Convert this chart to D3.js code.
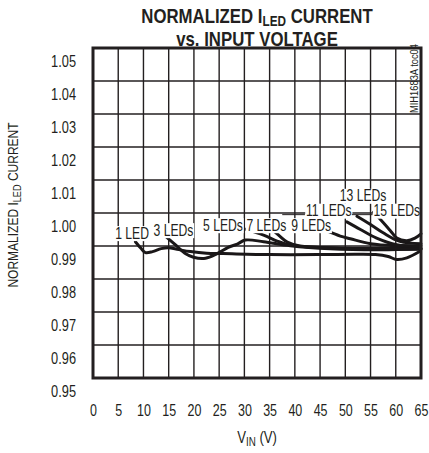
<!DOCTYPE html>
<html>
<head>
<meta charset="utf-8">
<script src="https://cdn.jsdelivr.net/npm/d3@7"></script>
<style>
  body { margin: 0; background: #fff; }
  svg text { font-family: "Liberation Sans", Arial, sans-serif; fill: #231f20; }
</style>
</head>
<body>
<div id="chart"></div>
<script>
const svgWidth = 429;
const svgHeight = 453;

const margin = { top: 48, right: 8, bottom: 75, left: 93 };
const width = svgWidth - margin.left - margin.right;
const height = svgHeight - margin.top - margin.bottom;

// tick values
const xTicks = [0, 5, 10, 15, 20, 25, 30, 35, 40, 45, 50, 55, 60, 65];
const yTicks = [0.95, 0.96, 0.97, 0.98, 0.99, 1.00, 1.01, 1.02, 1.03, 1.04, 1.05];

// curves: [input voltage, normalized current]
const led1 = [[8.4, 0.9913], [9.5, 0.9893], [10.4, 0.9880], [11.8, 0.9883], [13.5, 0.9892], [14.9, 0.9895],
  [17, 0.9889], [19.3, 0.9883], [22.5, 0.9878], [25.8, 0.9877], [35, 0.9874], [45, 0.9874],
  [52, 0.9875], [56, 0.9874], [58.5, 0.9868], [60.2, 0.9859], [62.2, 0.9864], [64.8, 0.9884]];
const led3 = [[14.3, 0.9931], [16.3, 0.9904], [18.2, 0.9878], [19.9, 0.9866], [22.3, 0.9863], [24.6, 0.9877],
  [26.8, 0.9896], [28.6, 0.9906], [30.2, 0.9918], [33.8, 0.9913], [39.1, 0.9901], [47, 0.9892],
  [56.9, 0.9889], [65, 0.9892]];
const led5 = [[30.2, 0.9951], [33.8, 0.9933], [36.5, 0.9915], [38.5, 0.9905], [42.5, 0.9897], [50, 0.9893],
  [57, 0.9891], [65, 0.9890]];
const led7 = [[35.2, 0.9955], [37, 0.9930], [38.5, 0.9912], [41, 0.9900], [48, 0.9894], [56, 0.9893], [65, 0.9893]];
const led9 = [[46.6, 0.9944], [49, 0.9930], [51, 0.9922], [55, 0.9907], [59.9, 0.9901], [65, 0.9901]];
const led11 = [[50.3, 0.9973], [53, 0.9950], [56.2, 0.9924], [60.2, 0.9904], [64.8, 0.9899]];
const led13 = [[52.3, 0.9990], [55, 0.9965], [57.5, 0.9940], [60.8, 0.9914], [65, 0.9907]];
const led15 = [[55.6, 1.0003], [57.5, 0.9971], [59, 0.9945], [60.2, 0.9924], [62.2, 0.9916], [63.8, 0.9924], [65, 0.9937]];

const seriesNames = ["1 LED", "3 LEDs", "5 LEDs", "7 LEDs", "9 LEDs", "11 LEDs", "13 LEDs", "15 LEDs"];
// where each curve name sits: [voltage at left edge of text, value at baseline]
const labelAt = [[4.4, 0.9922], [12.0, 0.9931], [21.8, 0.9946], [30.4, 0.9946], [39.3, 0.9946], [42.2, 0.9990], [48.9, 1.0035], [55.6, 0.9990]];

const svg = d3.select("#chart")
  .append("svg")
  .attr("width", svgWidth)
  .attr("height", svgHeight);

const chartGroup = svg.append("g")
  .attr("transform", `translate(${margin.left}, ${margin.top})`);

const xLinearScale = d3.scaleLinear().domain([0, 65]).range([0, width]);
const yLinearScale = d3.scaleLinear().domain([0.95, 1.05]).range([height, 0]);

// the original uses a narrow face; squeeze the texts sideways
function squeeze(sel, k) {
  sel.each(function() {
    const t = d3.select(this);
    const x = +t.attr("x") || 0;
    const y = +t.attr("y") || 0;
    t.attr("x", 0).attr("y", 0)
      .attr("transform", `translate(${x},${y}) scale(${k},1)`);
  });
}

// grid
chartGroup.append("g")
  .selectAll("line")
  .data(xTicks.slice(1, -1))
  .join("line")
  .attr("x1", d => xLinearScale(d)).attr("x2", d => xLinearScale(d))
  .attr("y1", 0).attr("y2", height)
  .attr("stroke", "#231f20").attr("stroke-width", 1.4);

chartGroup.append("g")
  .selectAll("line")
  .data(yTicks.slice(1, -1))
  .join("line")
  .attr("x1", 0).attr("x2", width)
  .attr("y1", d => yLinearScale(d)).attr("y2", d => yLinearScale(d))
  .attr("stroke", "#231f20").attr("stroke-width", 1.4);

// axes, labels only (they sit a bit below their grid lines in the original)
const leftAxis = d3.axisLeft(yLinearScale).tickValues(yTicks).tickFormat(d3.format(".2f")).tickSize(0).tickPadding(17);
const yAxis = chartGroup.append("g").call(leftAxis);
yAxis.select(".domain").remove();
yAxis.selectAll("text")
  .attr("dy", "1.15em")
  .style("font-size", "16px")
  .style("font-family", null)
  .attr("fill", "#231f20")
  .call(squeeze, 0.8);

const bottomAxis = d3.axisBottom(xLinearScale).tickValues(xTicks).tickSize(0).tickPadding(27);
const xAxis = chartGroup.append("g")
  .attr("transform", `translate(0, ${height})`)
  .call(bottomAxis);
xAxis.select(".domain").remove();
xAxis.selectAll("text")
  .style("font-size", "16px")
  .attr("fill", "#231f20")
  .call(squeeze, 0.78);
xAxis.attr("font-family", null);
yAxis.attr("font-family", null);

// curves
const line = d3.line()
  .x(d => xLinearScale(d[0]))
  .y(d => yLinearScale(d[1]))
  .curve(d3.curveCatmullRom);

const allSeries = [led1, led3, led5, led7, led9, led11, led13, led15];

chartGroup.append("g")
  .selectAll("path")
  .data(allSeries)
  .join("path")
  .attr("d", line)
  .attr("fill", "none")
  .attr("stroke", "#1a1718")
  .attr("stroke-width", 3)
  .attr("stroke-linejoin", "round")
  .attr("stroke-linecap", "round");

// curve names with white boxes
const labelGroup = chartGroup.append("g");
seriesNames.forEach(function(name, i) {
  const g = labelGroup.append("g")
    .attr("transform", `translate(${xLinearScale(labelAt[i][0])},${yLinearScale(labelAt[i][1])}) scale(0.76,1)`);
  const t = g.append("text")
    .style("font-size", "16px")
    .text(name);
  const b = t.node().getBBox();
  g.insert("rect", "text")
    .attr("x", b.x - 1).attr("y", b.y + 2)
    .attr("width", b.width + 2).attr("height", b.height - 3)
    .attr("fill", "#fff");
});

// leader strokes around "11 LEDs"
labelGroup.append("line")
  .attr("x1", xLinearScale(37.5)).attr("x2", xLinearScale(42))
  .attr("y1", yLinearScale(0.9995)).attr("y2", yLinearScale(0.9995))
  .attr("stroke", "#231f20").attr("stroke-width", 1);
labelGroup.append("line")
  .attr("x1", xLinearScale(51.3)).attr("x2", xLinearScale(55.4))
  .attr("y1", yLinearScale(0.9995)).attr("y2", yLinearScale(0.9995))
  .attr("stroke", "#231f20").attr("stroke-width", 1);

// frame
chartGroup.append("rect")
  .attr("x", 0).attr("y", 0)
  .attr("width", width).attr("height", height)
  .attr("fill", "none")
  .attr("stroke", "#231f20")
  .attr("stroke-width", 3);

// figure id
chartGroup.append("text")
  .attr("transform", `translate(${width - 3}, -4) rotate(-90) scale(0.85,1)`)
  .attr("text-anchor", "end")
  .style("font-size", "11px")
  .text("MIH1683A toc04");

// title
const title = svg.append("g").attr("text-anchor", "middle")
  .style("font-weight", "bold")
  .style("font-size", "20px");
const t1 = title.append("text").attr("transform", "translate(257,23) scale(0.84,1)");
t1.append("tspan").text("NORMALIZED I");
t1.append("tspan").attr("dy", 3).style("font-size", "14px").text("LED");
t1.append("tspan").attr("dy", -3).text(" CURRENT");
title.append("text").attr("transform", "translate(257,46) scale(0.84,1)").text("vs. INPUT VOLTAGE");

// axis titles
const yTitle = svg.append("text")
  .attr("transform", `translate(18, ${margin.top + height / 2 - 8}) rotate(-90) scale(0.8,1)`)
  .attr("text-anchor", "middle")
  .style("font-size", "15px");
yTitle.append("tspan").text("NORMALIZED I");
yTitle.append("tspan").attr("dy", 3).style("font-size", "11.5px").text("LED");
yTitle.append("tspan").attr("dy", -3).text(" CURRENT");

const xTitle = svg.append("text")
  .attr("transform", `translate(${margin.left + width / 2}, 443) scale(0.82,1)`)
  .attr("text-anchor", "middle")
  .style("font-size", "16px");
xTitle.append("tspan").text("V");
xTitle.append("tspan").attr("dy", 3).style("font-size", "12px").text("IN");
xTitle.append("tspan").attr("dy", -3).text(" (V)");
</script>
</body>
</html>
